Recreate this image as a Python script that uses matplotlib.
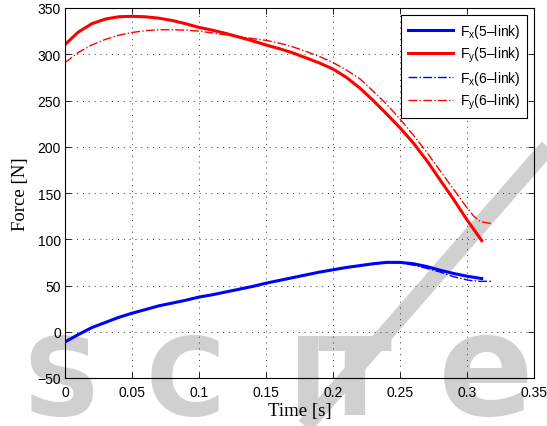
import numpy as np
import matplotlib
matplotlib.use('Agg')
import matplotlib.pyplot as plt
from matplotlib.lines import Line2D

# time base of the two models [s]
t5 = [0.0, 0.01, 0.02, 0.03, 0.04, 0.05, 0.06, 0.07, 0.08, 0.09, 0.10,
      0.11, 0.12, 0.13, 0.14, 0.15, 0.16, 0.17, 0.18, 0.19, 0.20,
      0.21, 0.22, 0.23, 0.24, 0.25, 0.26, 0.27, 0.28, 0.29, 0.30, 0.311]
t6 = [0.0, 0.01, 0.02, 0.03, 0.04, 0.05, 0.06, 0.07, 0.08, 0.09, 0.10,
      0.11, 0.12, 0.13, 0.14, 0.15, 0.16, 0.17, 0.18, 0.19, 0.20,
      0.21, 0.22, 0.23, 0.24, 0.25, 0.26, 0.27, 0.28, 0.29, 0.30, 0.305, 0.31, 0.318]

# ground reaction forces [N]
fx5 = [-11, -3, 4.5, 10, 15.5, 20, 24, 28, 31, 34, 37.5,
       40, 43, 46, 49, 52.5, 55.5, 58.5, 61.5, 64.5, 67,
       69.5, 71.5, 73.5, 75, 75, 73.5, 70.5, 66.5, 63, 60, 57.5]
fy5 = [310.5, 324, 333, 338, 340.5, 341, 340.5, 339, 336.5, 333, 329,
       326, 322.5, 318.5, 314.5, 310, 306, 301.5, 296, 290.5, 284,
       275, 263.5, 250, 235.5, 220.5, 204, 185, 164, 143, 121, 98.5]
fx6 = [-11, -3, 4.5, 10, 15.5, 20, 24, 28, 31, 34, 37.5,
       40, 43, 46, 49, 52.5, 55.5, 58.5, 61.5, 64.5, 67,
       69.5, 71.5, 73.5, 75, 74.5, 72, 68.5, 64.5, 59.5, 56, 55, 54.5, 54.5]
fy6 = [291, 302, 310, 316, 320.5, 323.5, 325.5, 326.5, 326.5, 326, 325,
       323, 321, 319, 317, 315, 312, 308, 303, 297.5, 291,
       283, 273.5, 260, 246, 230, 212.5, 194, 174, 154, 134, 125, 119, 117]

xticks = [0, 0.05, 0.1, 0.15, 0.2, 0.25, 0.3, 0.35]
xticklabels = ['0', '0.05', '0.1', '0.15', '0.2', '0.25', '0.3', '0.35']
yticks = [-50, 0, 50, 100, 150, 200, 250, 300, 350]

sans = ['Liberation Sans', 'DejaVu Sans']
serif = ['Liberation Serif', 'DejaVu Serif']
plt.rcParams['font.family'] = sans
plt.rcParams['mathtext.fontset'] = 'custom'
plt.rcParams['mathtext.rm'] = 'Liberation Sans'

W, H = 547, 427
fig = plt.figure(figsize=(W / 100, H / 100), dpi=100)
fig.patch.set_facecolor('white')

# publisher watermark behind the plot
wm = '#d0d0d0'
for ch, x, size in [('S', 22, 78), ('C', 146, 78), ('I', 288, 78), ('T', 318, 78), ('e', 438, 102)]:
    fig.text(x / W, (H - 415) / H, ch, fontsize=size, fontweight='bold',
             family='DejaVu Sans', color=wm, ha='left', va='baseline', zorder=0)
fig.add_artist(Line2D([548 / W, 305 / W], [1 - 148 / H, 0.0],
                      transform=fig.transFigure, color=wm, lw=12, zorder=0,
                      solid_capstyle='butt'))

ax = fig.add_axes([65 / W, 48 / H, 469 / W, 370 / H])
ax.set_facecolor('none')
ax.set_zorder(1)

ax.plot(t5, fx5, color='#0000ff', lw=2.2, label=r'F$_\mathregular{x}$(5–link)')
ax.plot(t5, fy5, color='#ff0000', lw=2.2, label=r'F$_\mathregular{y}$(5–link)')
ax.plot(t6, fx6, color='#0000ff', lw=1.0, ls='-.', label=r'F$_\mathregular{x}$(6–link)')
ax.plot(t6, fy6, color='#ff0000', lw=1.0, ls='-.', label=r'F$_\mathregular{y}$(6–link)')

ax.set_xlim(0, 0.35)
ax.set_ylim(-50, 350)
ax.set_xticks(xticks)
ax.set_xticklabels(xticklabels)
ax.set_yticks(yticks)
ax.tick_params(direction='in', length=4, width=0.6, labelsize=10,
               top=True, right=True)
ax.tick_params(axis='x', pad=5)
ax.tick_params(axis='y', pad=3)
ax.grid(True, ls=(0, (1, 5)), color='#333333', lw=0.7)
for s in ax.spines.values():
    s.set_linewidth(0.8)

ax.set_xlabel('Time [s]', family=serif, fontsize=13.5, labelpad=2)
ax.set_ylabel('Force [N]', family=serif, fontsize=13.5, labelpad=6)

leg = ax.legend(loc='upper right', fontsize=10, handlelength=3.2,
                fancybox=False, framealpha=1, edgecolor='black',
                borderaxespad=0.5, labelspacing=0.35, handletextpad=0.5,
                borderpad=0.5)
leg.get_frame().set_linewidth(0.8)

fig.savefig('out.png', dpi=100)
